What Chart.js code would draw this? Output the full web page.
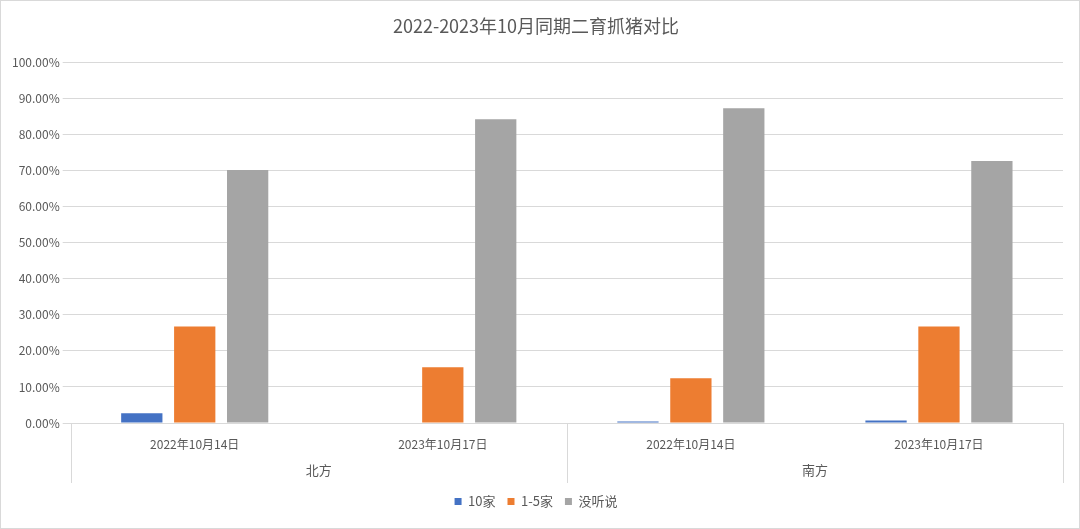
<!DOCTYPE html>
<html><head><meta charset="utf-8">
<script src="https://cdn.jsdelivr.net/npm/chart.js@4"></script>
<style>html,body{margin:0;padding:0;background:#fff}#w{width:1078px;height:527px;border:1px solid #d9d9d9}</style>
</head><body><div id="w"><canvas id="c"></canvas></div>
<script>
const categories=["2022年10月14日","2023年10月17日","2022年10月14日","2023年10月17日"];
const groups=["北方","南方"];
const s10=[2.7,0,0.4,0.7];
const s15=[26.8,15.5,12.4,26.8];
const sNone=[70.2,84.3,87.3,72.7];
const FONT="'Noto Sans CJK SC','Noto Sans',sans-serif";
const groupPlugin={id:'grp',afterDraw(ch){
 const x=ch.scales.x,ctx=ch.ctx,top=x.top,bot=top+60;
 ctx.save();ctx.strokeStyle='#d9d9d9';ctx.lineWidth=1;
 const l=x.left,r=x.right,m=(l+r)/2;
 [l,m,r].forEach(p=>{ctx.beginPath();ctx.moveTo(Math.round(p)+0.5,top);ctx.lineTo(Math.round(p)+0.5,bot);ctx.stroke();});
 ctx.fillStyle='#595959';ctx.font='13px '+FONT;ctx.textAlign='center';ctx.textBaseline='middle';
 ctx.fillText(groups[0],(l+m)/2,top+47);ctx.fillText(groups[1],(m+r)/2,top+47);
 ctx.restore();}};
new Chart(document.getElementById('c'),{type:'bar',
data:{labels:categories,datasets:[
{label:'10家',data:s10,backgroundColor:'#4472c4'},
{label:'1-5家',data:s15,backgroundColor:'#ed7d31'},
{label:'没听说',data:sNone,backgroundColor:'#a5a5a5'}]},
options:{responsive:true,maintainAspectRatio:false,animation:false,
 layout:{padding:{left:8,right:16,top:10,bottom:10}},
 datasets:{bar:{categoryPercentage:0.64,barPercentage:0.78}},
 plugins:{title:{display:true,text:'2022-2023年10月同期二育抓猪对比',color:'#595959',font:{family:FONT,size:18,weight:'normal'},padding:{top:4,bottom:26}},
  legend:{position:'bottom',labels:{boxWidth:7,boxHeight:7,color:'#595959',font:{family:FONT,size:13},padding:12}},tooltip:{enabled:false}},
 scales:{x:{grid:{display:false},border:{color:'#d9d9d9'},ticks:{color:'#595959',font:{family:FONT,size:12},padding:6},afterFit(s){s.height=60}},
  y:{min:0,max:100,ticks:{stepSize:10,color:'#595959',font:{family:FONT,size:12},callback:v=>v.toFixed(2)+'%'},grid:{color:'#d9d9d9'},border:{display:false}}}},
plugins:[groupPlugin]});
</script></body></html>
